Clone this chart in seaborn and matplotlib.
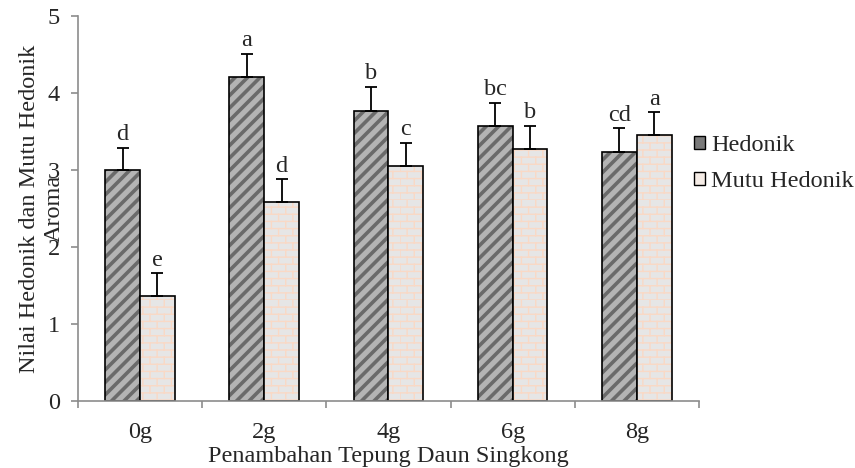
import numpy as np
import pandas as pd
import matplotlib
matplotlib.use("Agg")
import matplotlib.pyplot as plt
import matplotlib.hatch as mhatch
from matplotlib.path import Path
from matplotlib.patches import Patch
from matplotlib.colors import to_rgba
import seaborn as sns

# ---------------- data ----------------
categories = ["0g", "2g", "4g", "6g", "8g"]
series = ["Hedonik", "Mutu Hedonik"]
hedonik = [3.00, 4.21, 3.77, 3.57, 3.24]
hedonik_err = [0.29, 0.30, 0.31, 0.30, 0.30]
mutu = [1.36, 2.58, 3.05, 3.27, 3.45]
mutu_err = [0.30, 0.30, 0.30, 0.30, 0.30]
hedonik_letters = ["d", "a", "b", "bc", "cd"]
mutu_letters = ["e", "d", "c", "b", "a"]
y_ticks = [0, 1, 2, 3, 4, 5]

# ---------------- custom hatches ----------------
class StripeHatch(mhatch.HatchPatternBase):
    def __init__(self, hatch, density):
        self.num_lines = 16 if "d" in hatch else 0
        self.num_vertices = (self.num_lines + 1) * 2 if self.num_lines else 0

    def set_vertices_and_codes(self, vertices, codes):
        steps = np.linspace(-0.5, 0.5, self.num_lines + 1)
        vertices[0::2, 0] = 0.0 + steps
        vertices[0::2, 1] = 0.0 - steps
        vertices[1::2, 0] = 1.0 + steps
        vertices[1::2, 1] = 1.0 - steps
        codes[0::2] = Path.MOVETO
        codes[1::2] = Path.LINETO


class BrickHatch(mhatch.HatchPatternBase):
    rows, cols = 14, 7

    def __init__(self, hatch, density):
        self.on = "b" in hatch
        self.num_vertices = (2 * self.rows + 2 * self.rows * self.cols) if self.on else 0

    def set_vertices_and_codes(self, vertices, codes):
        v = []
        for k in range(self.rows):
            y0 = k / self.rows
            v += [(0.0, y0), (1.0, y0)]
        for k in range(self.rows):
            y0, y1 = k / self.rows, (k + 1) / self.rows
            for j in range(self.cols):
                x = (j + 0.5 * (k % 2)) / self.cols
                v += [(x, y0), (x, y1)]
        vertices[:] = np.array(v)
        codes[0::2] = Path.MOVETO
        codes[1::2] = Path.LINETO


mhatch._hatch_types.append(StripeHatch)
mhatch._hatch_types.append(BrickHatch)
mhatch._validate_hatch_pattern = lambda h: None

# ---------------- style ----------------
sns.set_style("ticks")
plt.rcParams["font.family"] = ["Liberation Serif", "DejaVu Serif"]
FS = 17.5

df = pd.DataFrame({
    "Penambahan": categories * 2,
    "Series": [series[0]] * len(categories) + [series[1]] * len(categories),
    "Nilai": hedonik + mutu,
})

fig = plt.figure(figsize=(8.55, 4.68), dpi=100)
ax = fig.add_axes([0.0912, 0.1432, 0.7263, 0.8226])

sns.barplot(data=df, x="Penambahan", y="Nilai", hue="Series", order=categories,
            hue_order=series, width=0.56, errorbar=None, ax=ax, legend=False)

face_colors = ["#b4b4b4", "#e6e6e6"]
hatch_colors = ["#6a6a6a", "#f9d9c6"]
hatches = ["d", "b"]
hatch_lw = [2.6, 1.0]
errs = [hedonik_err, mutu_err]
letters = [hedonik_letters, mutu_letters]

bar_containers = list(ax.containers)
for i, cont in enumerate(bar_containers):
    xs, tops = [], []
    for p in cont.patches:
        p.set_facecolor(face_colors[i])
        p.set_edgecolor("black")
        p.set_linewidth(1.2)
        p.set_hatch(hatches[i])
        p._hatch_color = to_rgba(hatch_colors[i])
        if hasattr(p, "set_hatch_linewidth"):
            p.set_hatch_linewidth(hatch_lw[i])
        else:
            p._hatch_linewidth = hatch_lw[i]
        xs.append(p.get_x() + p.get_width() / 2)
        tops.append(p.get_height())
    e = np.array(errs[i])
    ax.errorbar(xs, tops, yerr=[np.zeros_like(e), e], fmt="none", ecolor="black",
                elinewidth=1.3, capsize=4, capthick=1.3, zorder=3)
    for x, t, ee, lab in zip(xs, tops, e, letters[i]):
        ax.annotate(lab, xy=(x, t + ee), xytext=(0, 5.5), textcoords="offset points",
                    ha="center", va="baseline", fontsize=FS)

ax.set_ylim(0, 5)
ax.set_yticks(y_ticks)
ax.set_yticklabels([str(t) for t in y_ticks], fontsize=FS)
ax.set_xlim(-0.5, len(categories) - 0.5)
ax.set_xticks(range(len(categories)))
ax.set_xticklabels(categories, fontsize=FS)
ax.set_xticks(np.arange(-0.5, len(categories)), minor=True)
ax.tick_params(axis="x", which="major", length=0, pad=15)
ax.tick_params(axis="x", which="minor", length=5, width=1.2, color="#8c8c8c")
ax.tick_params(axis="y", length=5, width=1.2, color="#8c8c8c", pad=8)

for s in ["top", "right"]:
    ax.spines[s].set_visible(False)
for s in ["left", "bottom"]:
    ax.spines[s].set_color("#8c8c8c")
    ax.spines[s].set_linewidth(1.2)

ax.set_ylabel("Nilai Hedonik dan Mutu Hedonik\nAroma", fontsize=FS)
ax.yaxis.set_label_coords(-0.022, 0.5)
ax.set_xlabel("Penambahan Tepung Daun Singkong", fontsize=FS)
ax.xaxis.set_label_coords(0.5, -0.118)

handles = [Patch(facecolor="#7a7a7a", edgecolor="black", linewidth=1.0),
           Patch(facecolor="#f5ece6", edgecolor="black", linewidth=1.0)]
fig.legend(handles, series, loc="center left", bbox_to_anchor=(0.812, 0.650),
           frameon=False, fontsize=FS, handlelength=0.45, handleheight=0.45,
           handletextpad=0.25, labelspacing=0.62, borderpad=0, borderaxespad=0)

fig.savefig("out.png", dpi=100)
